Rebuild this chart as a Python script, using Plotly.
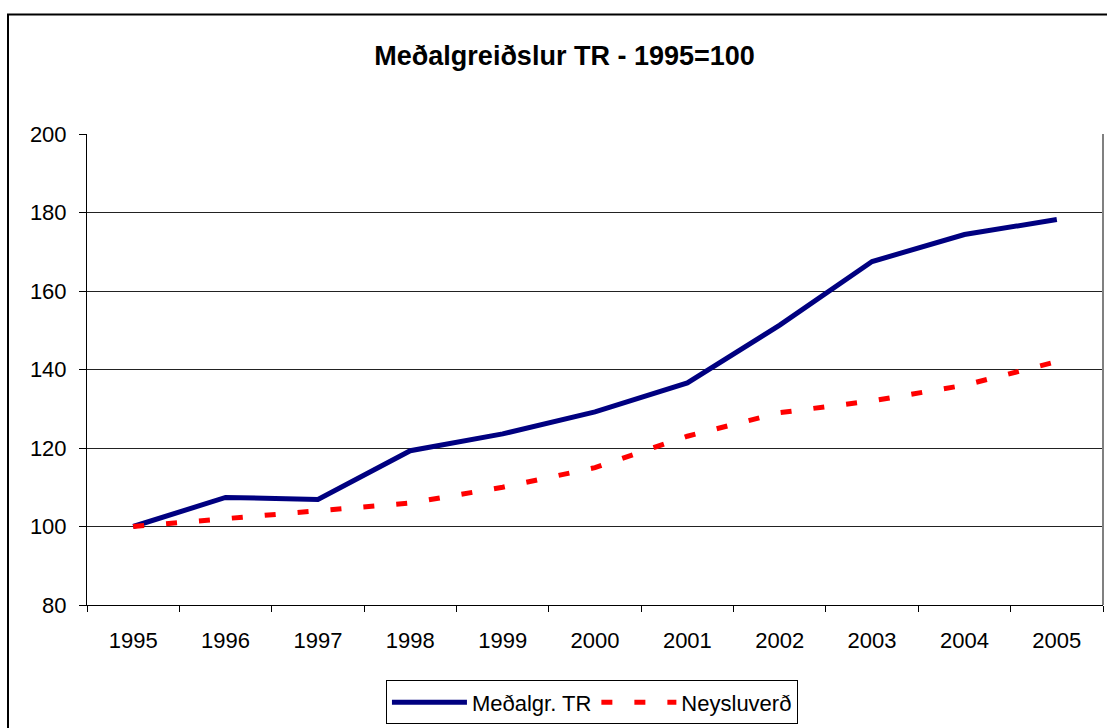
import plotly.graph_objects as go

years = ["1995", "1996", "1997", "1998", "1999", "2000", "2001", "2002", "2003", "2004", "2005"]
medalgr_tr = [100, 107.4, 106.9, 119.3, 123.6, 129.2, 136.6, 151.3, 167.5, 174.4, 178.2]
neysluverd = [100, 102.0, 104.0, 106.0, 110.0, 115.0, 123.0, 129.0, 132.0, 136.0, 142.0]

FONT = "Liberation Sans, Arial, sans-serif"

fig = go.Figure()
fig.add_trace(go.Scatter(
    x=years, y=medalgr_tr, mode="lines", name="Meðalgr. TR",
    line=dict(color="#000080", width=5),
))
fig.add_trace(go.Scatter(
    x=years, y=neysluverd, mode="lines", name="Neysluverð",
    line=dict(color="#FF0000", width=5, dash="11px,22px"),
))

fig.update_layout(
    width=1107, height=728,
    paper_bgcolor="white", plot_bgcolor="white",
    margin=dict(l=87, r=4, t=134, b=121),
    font=dict(family=FONT, size=22, color="black"),
    title=dict(text="<b>Meðalgreiðslur TR - 1995=100</b>", x=0.51, xref="container",
               xanchor="center", y=1 - 56 / 728, yanchor="middle",
               font=dict(family=FONT, size=27, color="black")),
    showlegend=True,
    legend=dict(orientation="h", x=0.497, xanchor="center", y=-0.16, yanchor="top",
                bordercolor="black", borderwidth=1, bgcolor="white",
                font=dict(family=FONT, size=22, color="black"),
                itemwidth=75, tracegroupgap=0),
    shapes=[
        dict(type="rect", xref="paper", yref="paper", x0=(8 - 87) / 1016, x1=1.05,
             y0=-0.6, y1=(607 - 14) / 473, line=dict(color="black", width=2),
             fillcolor="rgba(0,0,0,0)", layer="below"),
        dict(type="line", xref="paper", yref="paper", x0=1, x1=1, y0=0, y1=1,
             line=dict(color="#808080", width=2)),
    ],
)

fig.update_xaxes(
    type="category", range=[-0.5, len(years) - 0.5],
    showgrid=False, showline=True, linecolor="black", linewidth=1,
    ticks="outside", tickson="boundaries", ticklen=6, tickcolor="black",
    ticklabelstandoff=16, zeroline=False,
)
fig.update_yaxes(
    range=[80, 200], dtick=20, showgrid=True, gridcolor="#222222", gridwidth=1,
    showline=True, linecolor="black", linewidth=1, ticks="outside", ticklen=7,
    tickcolor="black", ticklabelstandoff=8, zeroline=False,
)

fig.write_html("out.html", config={"displayModeBar": False},
               post_script="document.body.style.margin='0';document.body.style.overflow='hidden';")
